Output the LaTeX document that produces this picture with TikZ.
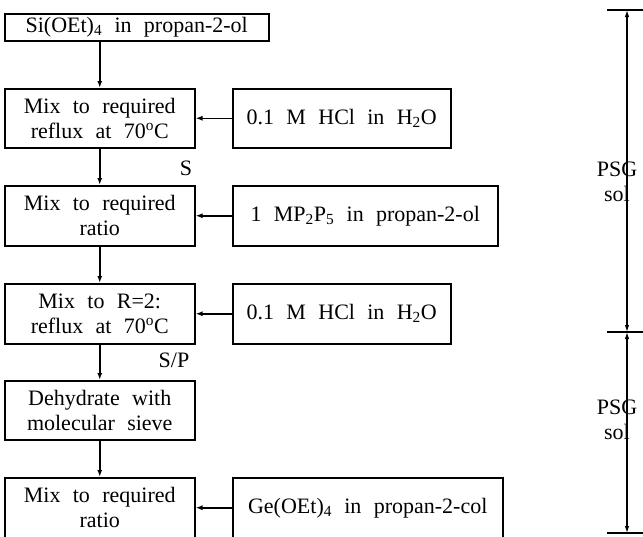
\documentclass[tikz,border=0pt]{standalone}
\usepackage{fontspec}
\setmainfont{Liberation Serif}
\usetikzlibrary{arrows.meta}
\newcommand\diagfont{\fontsize{22}{25}\selectfont\spaceskip=0.56em plus 0.1em minus 0.05em\relax}
\begin{document}
\begin{tikzpicture}[x=1pt,y=-1pt,
  every node/.style={font=\diagfont},
  box/.style={draw,line width=1.5pt,inner sep=0pt,align=center,anchor=north west},
  arr/.style={line width=1.5pt,-{Latex[length=7pt,width=5pt]}},
  dim/.style={line width=1.2pt,{Latex[length=7pt,width=4.5pt]}-{Latex[length=7pt,width=4.5pt]}},
  tick/.style={line width=1.2pt}]
\useasboundingbox (0,0) rectangle (643,536);
% left column
\node[box,minimum width=264pt,minimum height=27pt,text height=15pt,text depth=5pt] (b1) at (4,13) {Si(OEt)\textsubscript{4} in propan-2-ol};
\node[box,minimum width=190pt,minimum height=59pt] (b2) at (4,88) {Mix to required\\reflux at 70\textsuperscript{o}C};
\node[box,minimum width=190pt,minimum height=60pt] (b3) at (4,185) {Mix to required\\ratio};
\node[box,minimum width=190pt,minimum height=60pt] (b4) at (4,283) {Mix to R=2:\\reflux at 70\textsuperscript{o}C};
\node[box,minimum width=190pt,minimum height=59pt] (b5) at (4,380) {Dehydrate with\\molecular sieve};
\node[box,minimum width=190pt,minimum height=60pt] (b6) at (4,477) {Mix to required\\ratio};
% right column
\node[box,minimum width=218pt,minimum height=59pt] (r1) at (232,88) {0.1 M HCl in H\textsubscript{2}O};
\node[box,minimum width=265pt,minimum height=60pt] (r2) at (232,185) {1 MP\textsubscript{2}P\textsubscript{5} in propan-2-ol};
\node[box,minimum width=218pt,minimum height=60pt] (r3) at (232,283) {0.1 M HCl in H\textsubscript{2}O};
\node[box,minimum width=270pt,minimum height=60pt] (r4) at (232,477) {Ge(OEt)\textsubscript{4} in propan-2-col};
% vertical arrows
\draw[arr] (b2.north |- b1.south) -- (b2.north);
\draw[arr] (b2.south) -- (b3.north);
\draw[arr] (b3.south) -- (b4.north);
\draw[arr] (b4.south) -- (b5.north);
\draw[arr] (b5.south) -- (b6.north);
% horizontal arrows
\draw[arr] (r1.west) -- (b2.east);
\draw[arr] (r2.west) -- (b3.east);
\draw[arr] (r3.west) -- (b4.east);
\draw[arr] (r4.west) -- (b6.east);
% labels
\node (s) at (186,168) {S};
\node (sp) at (174,360) {S/P};
% dimension bars
\coordinate (t1) at (627,10);
\coordinate (t2) at (627,332);
\coordinate (t3) at (627,533);
\draw[tick] (607,10) -- (643,10);
\draw[tick] (607,332) -- (643,332);
\draw[tick] (607,533) -- (643,533);
\draw[dim] (t1) -- (t2);
\draw[dim] (t2) -- (t3);
\node[align=center] (p1) at (617,182) {PSG\\sol};
\node[align=center] (p2) at (617,420) {PSG\\sol};
\end{tikzpicture}
\end{document}
